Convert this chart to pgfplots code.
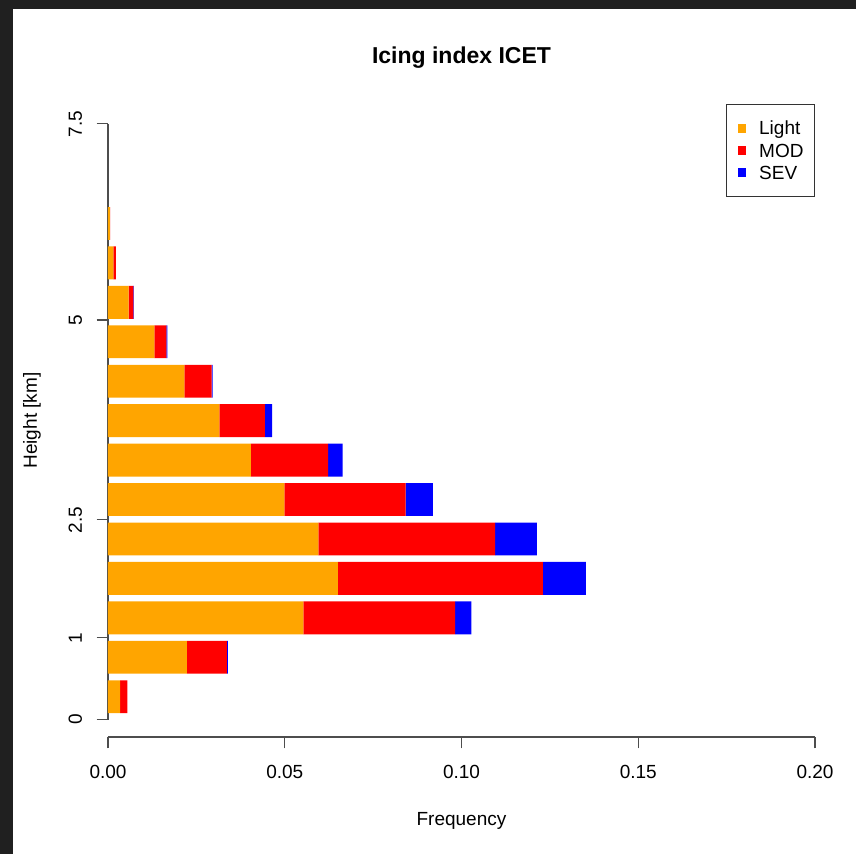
\documentclass[border=0pt]{standalone}
\usepackage{fontspec}
\setmainfont{Liberation Sans}
\usepackage{pgfplots}
\usepackage{pgfplotstable}
\pgfplotsset{compat=1.18}
\definecolor{rorange}{HTML}{FFA500}
\definecolor{rred}{HTML}{FF0000}
\definecolor{rblue}{HTML}{0000FF}
\definecolor{framebg}{HTML}{202020}
\definecolor{axgray}{HTML}{4D4D4D}

% y = bar position (R barplot units), L = Light, M = MOD, S = SEV
\pgfplotstableread{
y    L      M      S
0.7  0.0034 0.0021 0.0000
1.9  0.0223 0.0113 0.0003
3.1  0.0553 0.0429 0.0046
4.3  0.0650 0.0580 0.0122
5.5  0.0595 0.0500 0.0118
6.7  0.0499 0.0343 0.0077
7.9  0.0404 0.0219 0.0041
9.1  0.0315 0.0129 0.0020
10.3 0.0216 0.0077 0.0003
11.5 0.0131 0.0034 0.0003
12.7 0.0058 0.0014 0.0001
13.9 0.0015 0.0007 0.0000
15.1 0.0005 0.0001 0.0000
}\datatable

\begin{document}
\begin{tikzpicture}
\fill[white] (-54pt,-58.5pt) rectangle (374pt,368.5pt);
\fill[framebg] (-54pt,364pt) rectangle (374pt,368.5pt);
\fill[framebg] (-54pt,-58.5pt) rectangle (-47.5pt,368.5pt);
\begin{axis}[
  at={(0pt,0pt)}, anchor=south west,
  scale only axis, width=353.5pt, height=316.5pt,
  xbar stacked, bar width=1,
  xmin=0, xmax=0.2, ymin=-0.526, ymax=18.735,
  axis x line*=bottom, axis y line*=left,
  x axis line style={-, draw=axgray, line width=0.6pt},
  y axis line style={draw=none},
  tick align=outside, major tick length=5.7pt,
  tick style={draw=axgray, line width=0.6pt},
  xtick={0,0.05,0.1,0.15,0.2},
  xticklabels={0.00,0.05,0.10,0.15,0.20},
  ytick={0,2.49,6.08,12.16,18.13},
  yticklabels={0,1,2.5,5,7.5},
  tick label style={font=\fontsize{9.5}{11}\selectfont, inner sep=0pt},
  xticklabel style={anchor=base},
  yticklabel style={rotate=90, anchor=base},
  xticklabel shift=15.3pt,
  yticklabel shift=7.3pt,
  title={Icing index ICET},
  title style={at={(axis description cs:0.5,1)}, anchor=base, yshift=14.35pt,
    font=\bfseries\fontsize{11.5}{13}\selectfont, inner sep=0pt},
  xlabel={Frequency},
  every axis x label/.style={at={(axis description cs:0.5,0)}, anchor=base, yshift=-44.5pt,
    font=\fontsize{9.5}{11}\selectfont, inner sep=0pt},
  ylabel={Height [km]},
  every axis y label/.style={at={(axis description cs:0,0.5)}, xshift=-35.5pt, rotate=90, anchor=base,
    font=\fontsize{9.5}{11}\selectfont, inner sep=0pt},
  legend cell align=left,
  legend style={at={(1,1)}, anchor=north east, draw=black!80, line width=0.5pt, fill=white,
    inner xsep=5.5pt, inner ysep=8.5pt, row sep=4.35pt, column sep=6.35pt,
    nodes={inner sep=0pt, text height=6.75pt, text depth=0pt, font=\fontsize{9.5}{11}\selectfont}},
  clip=false,
]
\addplot[fill=rorange, draw=none,
  legend image code/.code={\fill[rorange] (0pt,-2.15pt) rectangle (4.3pt,2.15pt);}]
  table[x=L, y=y]{\datatable};
\addplot[fill=rred, draw=none,
  legend image code/.code={\fill[rred] (0pt,-2.15pt) rectangle (4.3pt,2.15pt);}]
  table[x=M, y=y]{\datatable};
\addplot[fill=rblue, draw=none,
  legend image code/.code={\fill[rblue] (0pt,-2.15pt) rectangle (4.3pt,2.15pt);}]
  table[x=S, y=y]{\datatable};
\legend{Light, MOD, SEV}
\draw[axgray, line width=0.6pt] (axis cs:0,0) -- (axis cs:0,18.13);
\end{axis}
\pgfresetboundingbox
\useasboundingbox (-54pt,-58.5pt) rectangle (374pt,368.5pt);
\end{tikzpicture}
\end{document}
